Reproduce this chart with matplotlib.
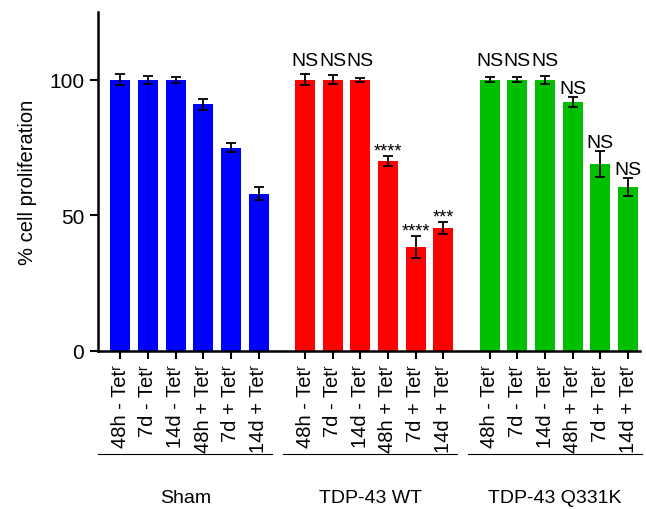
import numpy as np
import matplotlib
matplotlib.use('Agg')
import matplotlib.pyplot as plt
import matplotlib.transforms as mtrans

plt.rcParams['font.family'] = ['Liberation Sans', 'DejaVu Sans']

# data
conditions = ['48h - Tet\u02b3', '7d - Tet\u02b3', '14d - Tet\u02b3',
              '48h + Tet\u02b3', '7d + Tet\u02b3', '14d + Tet\u02b3']
groups = ['Sham', 'TDP-43 WT', 'TDP-43 Q331K']
colors = ['#0000ff', '#ff0000', '#00bf00']

sham_mean = [100, 100, 100, 91, 75, 58]
sham_err = [2.0, 1.5, 1.2, 2.0, 1.5, 2.5]
wt_mean = [100, 100, 100, 70, 38.2, 45.3]
wt_err = [2.0, 1.6, 0.8, 1.8, 4.0, 2.2]
q331k_mean = [100, 100, 100, 91.8, 69, 60.5]
q331k_err = [1.0, 1.0, 1.4, 1.8, 4.8, 3.3]

wt_marks = ['NS', 'NS', 'NS', '****', '****', '***']
q331k_marks = ['NS', 'NS', 'NS', 'NS', 'NS', 'NS']

means = [sham_mean, wt_mean, q331k_mean]
errs = [sham_err, wt_err, q331k_err]
marks = [None, wt_marks, q331k_marks]

fig = plt.figure(figsize=(6.46, 5.10), dpi=100)
ax = fig.add_axes([0.152, 0.31, 0.839, 0.6645])

group_step = 6.68
xs_all, labels_all = [], []
trans = mtrans.blended_transform_factory(ax.transData, ax.transAxes)
for g in range(3):
    x = np.arange(6) + g * group_step
    ax.bar(x, means[g], width=0.72, color=colors[g])
    ax.errorbar(x, means[g], yerr=errs[g], fmt='none', ecolor='black',
                elinewidth=1.3, capsize=3.8, capthick=1.3)
    if marks[g] is not None:
        for i, (xi, m, e, s) in enumerate(zip(x, means[g], errs[g], marks[g])):
            if s == 'NS':
                # the untreated ones sit on a common line
                y = 105.5 if i < 3 else m + e + 1.5
                ax.text(xi, y, s, ha='center', va='baseline', fontsize=14)
            else:
                ax.text(xi, m + e + 0.4, s, ha='center', va='baseline', fontsize=13)
    xs_all += list(x)
    labels_all += conditions
    c = x.mean() - 0.15
    ax.plot([c - 3.15, c + 3.15], [-0.305, -0.305], transform=trans,
            color='black', lw=0.8, clip_on=False)
    ax.text(c, -0.432, groups[g], transform=trans, ha='center',
            va='center', fontsize=14)

ax.set_xticks(xs_all)
ax.set_xticklabels(labels_all, rotation=90, fontsize=14.5)
ax.set_xlim(-0.8, 18.8)
ax.set_ylim(0, 125)
ax.set_yticks([0, 50, 100])
ax.tick_params(axis='y', labelsize=15, width=1.5, length=6, pad=4)
ax.tick_params(axis='x', width=1.5, length=6)
ax.set_ylabel('% cell proliferation', fontsize=14.5, labelpad=9)
for sp in ['top', 'right']:
    ax.spines[sp].set_visible(False)
for sp in ['left', 'bottom']:
    ax.spines[sp].set_linewidth(1.8)

fig.savefig('out.png', dpi=100)
